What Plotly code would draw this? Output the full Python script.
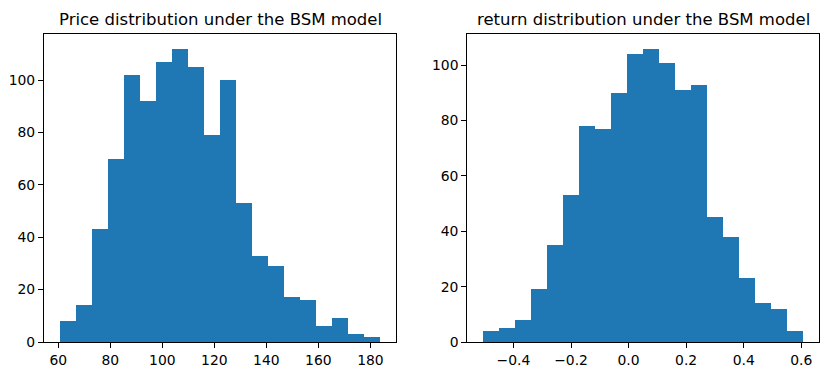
import numpy as np
import plotly.graph_objects as go

# Data
price_counts = [8, 14, 43, 70, 102, 92, 107, 112, 105, 79, 100, 53, 33, 29, 17, 16, 6, 9, 3, 2]
price_edge_min = 60.65
price_edge_max = 183.7

return_counts = [4, 5, 8, 19, 35, 53, 78, 77, 90, 104, 106, 101, 91, 93, 45, 38, 23, 14, 12, 4]
return_edge_min = -0.5047
return_edge_max = 0.607

price_ticks = [60, 80, 100, 120, 140, 160, 180]
price_ticktext = ["60", "80", "100", "120", "140", "160", "180"]
return_ticks = [-0.4, -0.2, 0.0, 0.2, 0.4, 0.6]
return_ticktext = ["\u22120.4", "\u22120.2", "0.0", "0.2", "0.4", "0.6"]
count_ticks = [0, 20, 40, 60, 80, 100]

titles = ["Price distribution under the BSM model", "return distribution under the BSM model"]

W, H = 832, 380
BLUE = "#1f77b4"
FONT = "DejaVu Sans"


def hist_bar(counts, lo, hi, xa, ya):
    edges = np.linspace(lo, hi, len(counts) + 1)
    centers = (edges[:-1] + edges[1:]) / 2
    width = edges[1] - edges[0]
    return go.Bar(x=centers, y=counts, width=width, marker=dict(color=BLUE, line=dict(width=0)),
                  xaxis=xa, yaxis=ya, showlegend=False, hoverinfo="x+y")


fig = go.Figure()
fig.add_trace(hist_bar(price_counts, price_edge_min, price_edge_max, "x", "y"))
fig.add_trace(hist_bar(return_counts, return_edge_min, return_edge_max, "x2", "y2"))


def xr(lo, hi):
    m = 0.05 * (hi - lo)
    return [lo - m, hi + m]


ax_common = dict(showline=True, linecolor="black", linewidth=1.1, mirror=True, ticks="outside",
                 ticklen=5, tickwidth=1.1, tickcolor="black", showgrid=False, zeroline=False,
                 automargin=False,
                 tickfont=dict(family=FONT, size=13.9, color="black"))

y_bot = 1 - 342 / H
y_top = 1 - 34 / H
d1 = [44 / W, 396 / W]
d2 = [467.3 / W, 819.3 / W]

fig.update_layout(
    width=W, height=H, margin=dict(l=0, r=0, t=0, b=0, autoexpand=False),
    paper_bgcolor="white", plot_bgcolor="white", bargap=0,
    xaxis=dict(domain=d1, range=xr(price_edge_min, price_edge_max), anchor="y",
               tickvals=price_ticks, ticktext=price_ticktext, **ax_common),
    yaxis=dict(domain=[y_bot, y_top], range=[0, max(price_counts) * 1.05], anchor="x",
               tickvals=count_ticks, **ax_common),
    xaxis2=dict(domain=d2, range=xr(return_edge_min, return_edge_max), anchor="y2",
                tickvals=return_ticks, ticktext=return_ticktext, **ax_common),
    yaxis2=dict(domain=[y_bot, y_top], range=[0, max(return_counts) * 1.05], anchor="x2",
                tickvals=count_ticks, **ax_common),
    annotations=[
        dict(text=titles[0], x=(d1[0] + d1[1]) / 2, y=y_top, xref="paper", yref="paper",
             xanchor="center", yanchor="bottom", yshift=3, showarrow=False,
             font=dict(family=FONT, size=16.5, color="black")),
        dict(text=titles[1], x=(d2[0] + d2[1]) / 2, y=y_top, xref="paper", yref="paper",
             xanchor="center", yanchor="bottom", yshift=3, showarrow=False,
             font=dict(family=FONT, size=16.5, color="black")),
    ],
)

fig.write_html("out.html", config={"displayModeBar": False},
               post_script="document.body.style.margin='0';")
